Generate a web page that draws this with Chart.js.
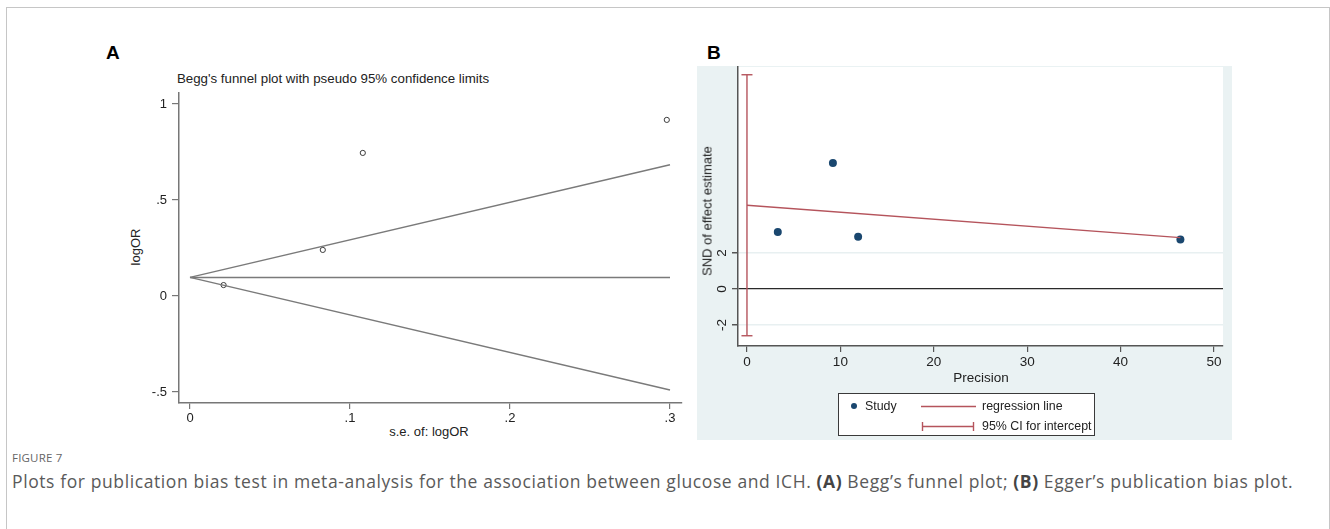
<!DOCTYPE html>
<html>
<head>
<meta charset="utf-8">
<script src="https://cdn.jsdelivr.net/npm/chart.js@4.4.1/dist/chart.umd.min.js"></script>
<style>
  html, body { margin: 0; padding: 0; }
  body { width: 1330px; height: 529px; overflow: hidden; background: #fff; position: relative;
         font-family: "Liberation Sans", Arial, sans-serif; color: #222; }
  .frame { position: absolute; left: 6px; top: 7px; width: 1322px; height: 560px;
           border: 1px solid #c6c6c6; border-bottom: none; }
  .abs { position: absolute; white-space: nowrap; }
  .center { transform: translate(-50%, -50%); }
  .vert { transform: translate(-50%, -50%) rotate(-90deg); }
  .panel-tag { font-weight: bold; font-size: 19px; color: #000; }
  .axis-title { font-size: 13px; color: #222; }
  .tint { position: absolute; left: 697px; top: 66px; width: 535px; height: 374px; background: #eaf2f3; }
  #cA { position: absolute; left: 100px; top: 73px; }
  #cB { position: absolute; left: 697px; top: 47px; }
  .legend { position: absolute; left: 838px; top: 393px; width: 257px; height: 43px;
            background: #fff; border: 1px solid #3a3a3a; box-sizing: border-box; font-size: 12.4px; }
  .legend .row { position: absolute; white-space: nowrap; transform: translateY(-50%); }
  .caption-tag { position: absolute; left: 12px; top: 450px; font-family: "Open Sans", sans-serif;
                 font-size: 11.5px; color: #666; letter-spacing: 0.2px; }
  .caption { position: absolute; left: 12px; top: 469px; font-family: "Open Sans", sans-serif;
             font-size: 17.5px; letter-spacing: 0.6px; color: #5a5a5a; white-space: nowrap; }
  .caption b { color: #444; }
</style>
</head>
<body>
<div class="frame"></div>

<div class="abs panel-tag" style="left:106px; top:42px;">A</div>
<div class="abs panel-tag" style="left:707px; top:42px;">B</div>

<div class="abs center axis-title" style="left:333px; top:78px; font-size:13.3px;">Begg's funnel plot with pseudo 95% confidence limits</div>
<div class="abs vert axis-title" style="left:135px; top:247px;">logOR</div>
<div class="abs center axis-title" style="left:429px; top:431px;">s.e. of: logOR</div>

<canvas id="cA" width="600" height="372"></canvas>

<div class="tint"></div>
<canvas id="cB" width="535" height="393"></canvas>

<div class="abs vert axis-title" style="left:707px; top:211px;">SND of effect estimate</div>
<div class="abs center axis-title" style="left:981px; top:377px; font-size:13.5px;">Precision</div>

<div class="legend">
  <svg width="257" height="43" style="position:absolute;left:0;top:0">
    <circle cx="15" cy="12" r="3" fill="#1a476f"/>
    <line x1="82" y1="12.5" x2="137" y2="12.5" stroke="#b5545c" stroke-width="1.4"/>
    <line x1="83" y1="32.5" x2="135" y2="32.5" stroke="#b5545c" stroke-width="1.4"/>
    <line x1="83.5" y1="28" x2="83.5" y2="37" stroke="#b5545c" stroke-width="1.4"/>
    <line x1="134.5" y1="28" x2="134.5" y2="37" stroke="#b5545c" stroke-width="1.4"/>
  </svg>
  <div class="row" style="left:26px; top:12px;">Study</div>
  <div class="row" style="left:143px; top:12px;">regression line</div>
  <div class="row" style="left:143px; top:32px;">95% CI for intercept</div>
</div>

<div class="caption-tag">FIGURE 7</div>
<div class="caption">Plots for publication bias test in meta-analysis for the association between glucose and ICH. <b>(A)</b> Begg’s funnel plot; <b>(B)</b> Egger’s publication bias plot.</div>

<script>
// ---- Begg's funnel plot ----
const beggSe     = [0.021, 0.083, 0.108, 0.298];
const beggLogOR  = [0.057, 0.240, 0.745, 0.917];
const pooledLogOR = 0.097;
const funnelSe    = [0, 0.3];
const funnelUpper = [0.097, 0.683];
const funnelLower = [0.097, -0.489];
const beggXTicks  = [0, 0.1, 0.2, 0.3];
const beggXLabels = ['0', '.1', '.2', '.3'];
const beggYTicks  = [-0.5, 0, 0.5, 1];
const beggYLabels = ['-.5', '0', '.5', '1'];

// ---- Egger's publication bias plot ----
const eggerPrecision = [3.3, 9.2, 11.9, 46.4];
const eggerSnd       = [3.17, 7.0, 2.9, 2.74];
const regPrecision   = [0, 46.4];
const regSnd         = [4.65, 2.85];
const ciIntercept    = [-2.6, 11.9];
const eggerXTicks    = [0, 10, 20, 30, 40, 50];
const eggerYTicks    = [-2, 0, 2];

const FONT = 'Liberation Sans, Arial, sans-serif';
const pts = (xs, ys) => xs.map((x, i) => ({ x, y: ys[i] }));
const setTicks = (vals) => (scale) => { scale.ticks = vals.map(v => ({ value: v })); };

Chart.defaults.font.family = FONT;

// Begg panel
new Chart(document.getElementById('cA'), {
  type: 'scatter',
  data: {
    datasets: [
      { type: 'line', data: pts(funnelSe, funnelUpper), borderColor: '#7a7a7a', borderWidth: 1.5, pointRadius: 0, fill: false },
      { type: 'line', data: pts(funnelSe, funnelLower), borderColor: '#7a7a7a', borderWidth: 1.5, pointRadius: 0, fill: false },
      { type: 'line', data: pts(funnelSe, funnelSe.map(() => pooledLogOR)), borderColor: '#7a7a7a', borderWidth: 1.5, pointRadius: 0, fill: false },
      { data: pts(beggSe, beggLogOR), pointStyle: 'circle', pointRadius: 2.6, pointBorderWidth: 1,
        backgroundColor: 'rgba(255,255,255,0)', borderColor: '#3c3c3c' }
    ]
  },
  options: {
    responsive: false, animation: false, events: [],
    layout: { padding: { left: 0, right: 18, top: 20, bottom: 0 } },
    plugins: { legend: { display: false }, tooltip: { enabled: false } },
    scales: {
      x: {
        type: 'linear', min: -0.006875, max: 0.3075,
        afterBuildTicks: setTicks(beggXTicks),
        afterFit: (s) => { s.height = 42; },
        ticks: { callback: (v, i) => beggXLabels[i], color: '#222', font: { size: 13 }, padding: 2, maxRotation: 0, autoSkip: false },
        grid: { drawOnChartArea: false, drawTicks: true, tickLength: 6, color: '#777', lineWidth: 1.2 },
        border: { display: true, color: '#777', width: 1.5 }
      },
      y: {
        type: 'linear', min: -0.557, max: 1.057,
        afterBuildTicks: setTicks(beggYTicks),
        afterFit: (s) => { s.width = 79; },
        ticks: { callback: (v, i) => beggYLabels[i], color: '#222', font: { size: 13 }, padding: 5, autoSkip: false },
        grid: { drawOnChartArea: false, drawTicks: true, tickLength: 7, color: '#777', lineWidth: 1.2 },
        border: { display: true, color: '#777', width: 1.5 }
      }
    }
  }
});

// white plot region on the tinted graph region
const plotFill = {
  id: 'plotFill',
  beforeDraw(chart) {
    const { ctx, chartArea: a } = chart;
    ctx.save();
    ctx.fillStyle = '#ffffff';
    ctx.fillRect(a.left, a.top, a.right - a.left, a.bottom - a.top);
    ctx.restore();
  }
};

const RED = '#b5545c';
const NAVY = '#1a476f';

// Egger panel
new Chart(document.getElementById('cB'), {
  type: 'scatter',
  data: {
    datasets: [
      { type: 'line', data: pts([0, 0], ciIntercept), borderColor: RED, borderWidth: 1.4,
        pointStyle: 'line', pointRadius: 5.5, pointBorderColor: RED, pointBorderWidth: 1.4, fill: false },
      { type: 'line', data: pts(regPrecision, regSnd), borderColor: RED, borderWidth: 1.4, pointRadius: 0, fill: false },
      { data: pts(eggerPrecision, eggerSnd), pointStyle: 'circle', pointRadius: 4, pointBorderWidth: 0,
        backgroundColor: NAVY, borderColor: NAVY }
    ]
  },
  options: {
    responsive: false, animation: false, events: [],
    layout: { padding: { left: 0, right: 9, top: 20, bottom: 66 } },
    plugins: { legend: { display: false }, tooltip: { enabled: false } },
    scales: {
      x: {
        type: 'linear', min: -0.96, max: 50.96,
        afterBuildTicks: setTicks(eggerXTicks),
        afterFit: (s) => { s.height = 28; },
        ticks: { color: '#222', font: { size: 13.5 }, padding: 2, maxRotation: 0, autoSkip: false },
        grid: { drawOnChartArea: false, drawTicks: true, tickLength: 6, color: '#555', lineWidth: 1.2 },
        border: { display: true, color: '#555', width: 1.5 }
      },
      y: {
        type: 'linear', min: -3.17, max: 12.33,
        afterBuildTicks: setTicks(eggerYTicks),
        afterFit: (s) => { s.width = 41; },
        ticks: { color: '#222', font: { size: 13.5 }, padding: 4, minRotation: 90, maxRotation: 90,
                 crossAlign: 'center', autoSkip: false },
        grid: {
          drawOnChartArea: true, drawTicks: true, tickLength: 6,
          color: (c) => (c.tick && c.tick.value === 0 ? '#2a2a2a' : '#e8f0f1'),
          lineWidth: (c) => (c.tick && c.tick.value === 0 ? 1.3 : 1.5),
          tickColor: '#555'
        },
        border: { display: true, color: '#555', width: 1.5 }
      }
    }
  },
  plugins: [plotFill]
});
</script>
</body>
</html>
